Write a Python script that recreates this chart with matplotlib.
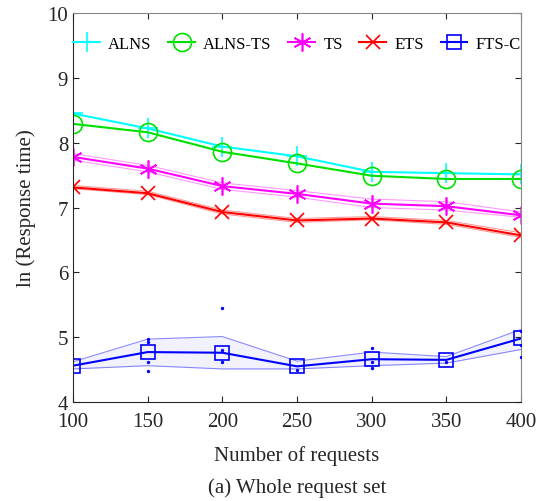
import matplotlib.pyplot as plt
import numpy as np

plt.rcParams['font.family'] = ['Liberation Serif', 'DejaVu Serif']

# datos
n_req = [100, 150, 200, 250, 300, 350, 400]
alns = [8.45, 8.22, 7.94, 7.79, 7.55, 7.53, 7.51]
alns_ts = [8.29, 8.16, 7.86, 7.68, 7.49, 7.44, 7.44]
ts = [7.78, 7.60, 7.33, 7.21, 7.06, 7.02, 6.88]
ts_hi = [7.83, 7.65, 7.38, 7.26, 7.13, 7.09, 6.93]
ts_lo = [7.73, 7.55, 7.28, 7.16, 7.00, 6.96, 6.85]
ets = [7.31, 7.22, 6.93, 6.80, 6.83, 6.77, 6.57]
ets_hi = [7.34, 7.25, 6.96, 6.83, 6.86, 6.80, 6.61]
ets_lo = [7.29, 7.20, 6.90, 6.77, 6.81, 6.74, 6.54]
fts = [4.56, 4.77, 4.76, 4.55, 4.66, 4.65, 4.98]
fts_hi = [4.62, 4.97, 5.01, 4.63, 4.77, 4.70, 5.12]
fts_lo = [4.51, 4.56, 4.51, 4.51, 4.56, 4.60, 4.81]
# corridas sueltas de FTS-C
runs_x = [150, 150, 150, 150, 200, 200, 200, 250, 300, 300, 300, 350, 400, 400, 400]
runs_y = [4.97, 4.93, 4.62, 4.48, 5.45, 4.80, 4.62, 4.50, 4.84, 4.62, 4.53, 4.62, 5.10, 4.88, 4.70]

fig = plt.figure(figsize=(5.46, 5.02), dpi=100)
ax = fig.add_axes([73 / 546, 1 - 403 / 502, 448 / 546, 389 / 502])

ax.plot(n_req, alns, color='cyan', marker='+', ms=14, mew=1.2, lw=1.5, label='ALNS')
ax.plot(n_req, alns_ts, color='#00e000', marker='o', ms=13, mfc='none', mew=1.2, lw=1.5, label='ALNS-TS')
ax.plot(n_req, ts_hi, color='magenta', lw=0.8, alpha=0.4)
ax.plot(n_req, ts_lo, color='magenta', lw=0.8, alpha=0.4)
ax.plot(n_req, ts, color='magenta', marker=(6, 2, 0), ms=13, mew=1.2, lw=1.5, label='TS')
ax.plot(n_req, ets_hi, color='red', lw=0.8, alpha=0.4)
ax.plot(n_req, ets_lo, color='red', lw=0.8, alpha=0.4)
ax.plot(n_req, ets, color='red', marker='x', ms=10, mew=1.2, lw=1.5, label='ETS')

ax.fill_between(n_req, fts_lo, fts_hi, color='blue', alpha=0.05, lw=0)
ax.plot(n_req, fts_hi, color='blue', lw=0.8, alpha=0.45)
ax.plot(n_req, fts_lo, color='blue', lw=0.8, alpha=0.45)
ax.scatter(runs_x, runs_y, s=2, color='blue', zorder=3)
ax.plot(n_req, fts, color='blue', marker='s', ms=10, mfc='none', mew=1.2, lw=1.5, label='FTS-C')

ax.set_xlim(100, 400)
ax.set_ylim(4, 10)
ax.set_xticks(n_req)
ax.set_yticks([4, 5, 6, 7, 8, 9, 10])
ax.tick_params(direction='in', top=True, right=True, labelsize=15, colors='#262626', length=4)
ax.tick_params(axis='x', pad=7)
for s in ax.spines.values():
    s.set_color('#262626')
    s.set_linewidth(0.8)
ax.spines['right'].set_color('#888888')
ax.spines['top'].set_color('#888888')

ax.set_xlabel('Number of requests', fontsize=15, color='#262626', labelpad=10)
ax.set_ylabel('ln (Response time)', fontsize=15, color='#262626', labelpad=8)
ax.legend(loc='upper center', ncol=5, frameon=False, fontsize=12,
          handlelength=1.6, handletextpad=0.5, columnspacing=1.0,
          bbox_to_anchor=(0.5, 0.98))

fig.text(0.5 + 0.045, 1 - 488 / 502, '(a) Whole request set', ha='center', va='center',
         fontsize=15, color='#262626')

fig.savefig('out.png', dpi=100)
